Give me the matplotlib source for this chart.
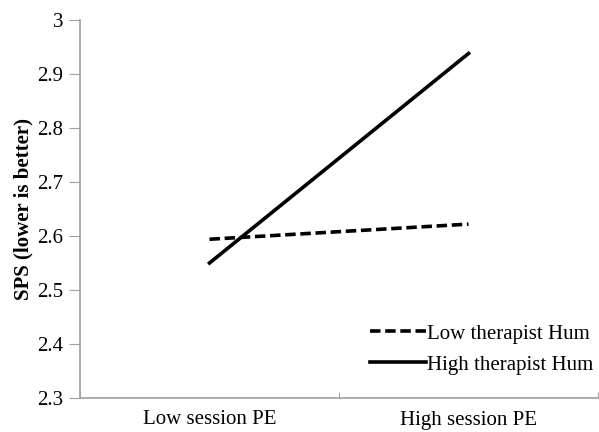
import matplotlib
matplotlib.use("Agg")
import matplotlib.pyplot as plt

categories = ["Low session PE", "High session PE"]
low_hum = [2.594, 2.622]
high_hum = [2.55, 2.938]
yticks = [2.3, 2.4, 2.5, 2.6, 2.7, 2.8, 2.9, 3.0]
ytick_labels = ["2.3", "2.4", "2.5", "2.6", "2.7", "2.8", "2.9", "3"]

plt.rcParams['font.family'] = ['Liberation Serif', 'DejaVu Serif']

fig = plt.figure(figsize=(5.99, 4.32), dpi=100)
ax = fig.add_axes([80/599, 1-398/432, 518/599, 378/432])

xpos = [0.5, 1.5]
ax.plot(xpos, low_hum, color='black', lw=2.6, ls=(0, (2.9, 1.3)), label="Low therapist Hum")
ax.plot(xpos, high_hum, color='black', lw=2.6, label="High therapist Hum")

ax.set_xlim(0, 2)
ax.set_ylim(2.3, 3.0)
ax.set_yticks(yticks)
ax.set_yticklabels(ytick_labels, fontsize=15)
ax.set_xticks([0, 1, 2])
ax.set_xticklabels([])
ax.set_xticks(xpos, minor=True)
ax.set_xticklabels(categories, minor=True, fontsize=15)
ax.tick_params(axis='x', which='minor', length=0, pad=9)
ax.tick_params(axis='x', which='major', length=4, color='#a0a0a0', direction='in')
ax.tick_params(axis='y', length=8, color='#a0a0a0', pad=4)

for s in ['top', 'right']:
    ax.spines[s].set_visible(False)
for s in ['left', 'bottom']:
    ax.spines[s].set_color('#a0a0a0')
    ax.spines[s].set_linewidth(1.2)

ax.set_ylabel("SPS (lower is better)", fontsize=15, fontweight='bold', labelpad=3)

ax.legend(loc='lower right', bbox_to_anchor=(0.99, 0.062), frameon=False, fontsize=15,
          handlelength=2.65, handletextpad=0.05, labelspacing=0.55,
          borderpad=0, borderaxespad=0)

fig.savefig("out.png", dpi=100)
